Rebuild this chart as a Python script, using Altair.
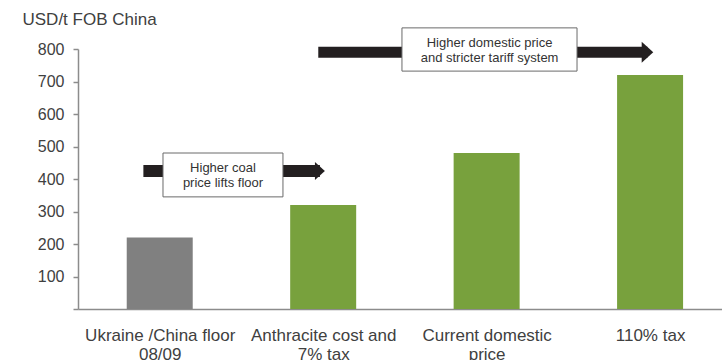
import json
import altair as alt
import pandas as pd

# ---- data ----
categories = ["Ukraine /China floor|08/09", "Anthracite cost and|7% tax",
              "Current domestic|price", "110% tax"]
values = [220, 320, 480, 720]
bar_kind = ["hist", "proj", "proj", "proj"]
positions = [0, 1, 2, 3]

# annotation arrows (data units: x = category index, y = USD/t)
arrow_x_start = [-0.10, 0.97]
arrow_x_head = [0.98, 2.984]
arrow_y = [425, 790]
arrow_width = [12, 11]
arrow_head_size = [324, 441]

# annotation boxes
box_x0 = [0.02, 1.482]
box_x1 = [0.754, 2.553]
box_y0 = [345, 732]
box_y1 = [480, 865]
box_text = [["Higher coal", "price lifts floor"],
            ["Higher domestic price", "and stricter tariff system"]]
box_text_x = [0.387, 2.018]
box_text_y = [433, 820]

FONT = "Liberation Sans"
TXT = "#404040"
AX = "#8c8c8c"

bars = pd.DataFrame({"pos": positions, "value": values, "kind": bar_kind})
arrows = pd.DataFrame({"x": arrow_x_start, "x2": arrow_x_head, "y": arrow_y,
                       "w": arrow_width, "hs": arrow_head_size})
boxes = pd.DataFrame({"x": box_x0, "x2": box_x1, "y": box_y0, "y2": box_y1,
                      "tx": box_text_x, "ty": box_text_y,
                      "t": ["\n".join(t) for t in box_text]})

xscale = alt.Scale(domain=[-0.5, 3.44], nice=False, zero=False, padding=0)
yscale = alt.Scale(domain=[0, 800], nice=False, padding=0)

label_expr = "split(" + json.dumps(categories) + "[datum.value], '|')"

xaxis = alt.Axis(values=positions, ticks=False, grid=False, title=None,
                 labelExpr=label_expr, labelFont=FONT, labelFontSize=17,
                 labelColor=TXT, labelPadding=18, labelLineHeight=19,
                 domainColor=AX, domainWidth=1.5, labelBound=False,
                 labelOverlap=False)
yaxis = alt.Axis(values=list(range(0, 801, 100)), grid=False,
                 labelExpr="datum.value == 0 ? '' : datum.label",
                 labelFont=FONT, labelFontSize=16, labelColor=TXT,
                 tickSize=5, tickColor=AX, tickWidth=1.5,
                 domainColor=AX, domainWidth=1.5, labelPadding=9,
                 title="USD/t FOB China", titleAngle=0, titleAlign="left",
                 titleBaseline="alphabetic", titleX=-56, titleY=-25,
                 titleFont=FONT, titleFontSize=17, titleFontWeight="normal",
                 titleColor=TXT)

bar_layer = alt.Chart(bars).mark_bar(size=66).encode(
    x=alt.X("pos:Q", scale=xscale, axis=xaxis),
    y=alt.Y("value:Q", scale=yscale, axis=yaxis),
    color=alt.Color("kind:N", scale=alt.Scale(domain=["hist", "proj"],
                                              range=["#808080", "#78a13d"]),
                    legend=None),
)

shaft = alt.Chart(arrows).mark_rule(color="#231f20").encode(
    x=alt.X("x:Q", scale=xscale, axis=xaxis),
    x2="x2:Q",
    y=alt.Y("y:Q", scale=yscale, axis=yaxis),
    strokeWidth=alt.StrokeWidth("w:Q", scale=None),
)

heads = alt.Chart(arrows).mark_point(
    shape="M-0.55,-1L0.55,0L-0.55,1Z", filled=True, color="#231f20", opacity=1
).encode(
    x=alt.X("x2:Q", scale=xscale, axis=xaxis),
    y=alt.Y("y:Q", scale=yscale, axis=yaxis),
    size=alt.Size("hs:Q", scale=None),
)

box = alt.Chart(boxes).mark_rect(fill="white", stroke="#6a6a6a", strokeWidth=1).encode(
    x=alt.X("x:Q", scale=xscale, axis=xaxis), x2="x2:Q",
    y=alt.Y("y:Q", scale=yscale, axis=yaxis), y2="y2:Q",
)

box_label = alt.Chart(boxes).mark_text(
    font=FONT, fontSize=13, color="#333333", lineBreak="\n", lineHeight=15,
    align="center", baseline="middle"
).encode(
    x=alt.X("tx:Q", scale=xscale, axis=xaxis),
    y=alt.Y("ty:Q", scale=yscale, axis=yaxis),
    text="t:N",
)

chart = alt.layer(bar_layer, shaft, heads, box, box_label).properties(
    width=644, height=260,
    padding={"left": 78, "top": 49, "right": 0, "bottom": 51},
    autosize=alt.AutoSizeParams(type="none"),
).configure(background="white").configure_view(stroke=None)

chart.save("out.html", embed_options={"renderer": "svg", "actions": False})
